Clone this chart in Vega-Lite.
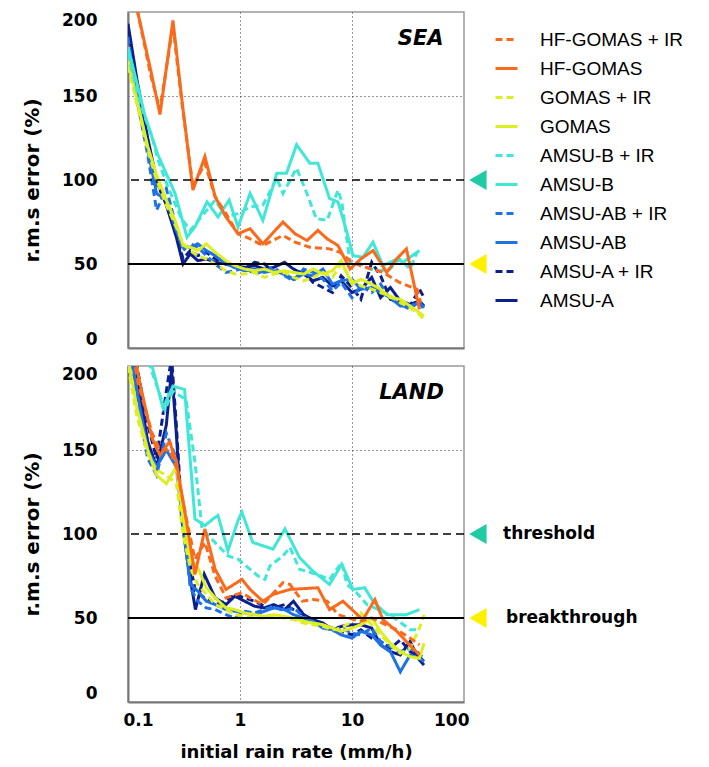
{
"$schema":"https://vega.github.io/schema/vega-lite/v6.json",
"background":"white",
"padding":{"left":21,"top":10,"right":0,"bottom":0},
"spacing":15,
"config":{
 "view":{"stroke":"#999","strokeWidth":1.5},
 "font":"DejaVu Sans",
 "axis":{"labelFont":"DejaVu Sans","labelFontWeight":"bold","labelFontSize":17,"labelColor":"#000","titleFont":"DejaVu Sans","titleFontWeight":"bold","titleFontSize":18,"titleColor":"#000","domainColor":"#777","domainWidth":2,"ticks":false,"tickSize":0,"gridColor":"#333","gridDash":[1,3],"gridWidth":1},
 "legend":{"orient":"none","legendX":366,"legendY":15,"symbolType":"stroke","symbolSize":484,"symbolStrokeWidth":3,"labelFont":"Liberation Sans","labelFontSize":19,"labelColor":"#000","labelOffset":21,"rowPadding":6,"padding":0,"labelLimit":300,"labelExpr":"replace(datum.label, ' +', '\u00a0\u00a0\u00a0+')"}
},
"datasets":{
"tri":[{"t":"threshold","x":133,"y":100},{"t":"breakthrough","x":133,"y":50}],
"labels":[{"text":"threshold","x":223,"y":100},{"text":"breakthrough","x":237,"y":50}],
"tags":[{"p":"SEA","name":"SEA","x":41,"y":184},{"p":"LAND","name":"LAND","x":34,"y":184}],
"lines":[
{"p":"SEA","s":"AMSU-A","x":0.1,"y":193},{"p":"SEA","s":"AMSU-A","x":0.12,"y":160},{"p":"SEA","s":"AMSU-A","x":0.15,"y":125},{"p":"SEA","s":"AMSU-A","x":0.18,"y":100},{"p":"SEA","s":"AMSU-A","x":0.22,"y":85},{"p":"SEA","s":"AMSU-A","x":0.27,"y":66},{"p":"SEA","s":"AMSU-A","x":0.31,"y":50},{"p":"SEA","s":"AMSU-A","x":0.36,"y":56},{"p":"SEA","s":"AMSU-A","x":0.42,"y":52},{"p":"SEA","s":"AMSU-A","x":0.5,"y":53},{"p":"SEA","s":"AMSU-A","x":0.6,"y":51},{"p":"SEA","s":"AMSU-A","x":0.75,"y":50},{"p":"SEA","s":"AMSU-A","x":0.9,"y":49},{"p":"SEA","s":"AMSU-A","x":1.1,"y":48},{"p":"SEA","s":"AMSU-A","x":1.35,"y":49},{"p":"SEA","s":"AMSU-A","x":1.65,"y":47},{"p":"SEA","s":"AMSU-A","x":2,"y":48},{"p":"SEA","s":"AMSU-A","x":2.5,"y":51},{"p":"SEA","s":"AMSU-A","x":3,"y":47},{"p":"SEA","s":"AMSU-A","x":3.7,"y":44},{"p":"SEA","s":"AMSU-A","x":4.5,"y":40},{"p":"SEA","s":"AMSU-A","x":5.5,"y":42},{"p":"SEA","s":"AMSU-A","x":6.7,"y":37},{"p":"SEA","s":"AMSU-A","x":8,"y":40},{"p":"SEA","s":"AMSU-A","x":10,"y":33},{"p":"SEA","s":"AMSU-A","x":12,"y":35},{"p":"SEA","s":"AMSU-A","x":15,"y":42},{"p":"SEA","s":"AMSU-A","x":18,"y":30},{"p":"SEA","s":"AMSU-A","x":22,"y":36},{"p":"SEA","s":"AMSU-A","x":27,"y":28},{"p":"SEA","s":"AMSU-A","x":33,"y":26},{"p":"SEA","s":"AMSU-A","x":40,"y":28},{"p":"SEA","s":"AMSU-A","x":44,"y":25},
{"p":"SEA","s":"AMSU-A + IR","x":0.1,"y":190},{"p":"SEA","s":"AMSU-A + IR","x":0.12,"y":158},{"p":"SEA","s":"AMSU-A + IR","x":0.15,"y":122},{"p":"SEA","s":"AMSU-A + IR","x":0.18,"y":98},{"p":"SEA","s":"AMSU-A + IR","x":0.22,"y":86},{"p":"SEA","s":"AMSU-A + IR","x":0.27,"y":68},{"p":"SEA","s":"AMSU-A + IR","x":0.31,"y":53},{"p":"SEA","s":"AMSU-A + IR","x":0.36,"y":58},{"p":"SEA","s":"AMSU-A + IR","x":0.42,"y":55},{"p":"SEA","s":"AMSU-A + IR","x":0.5,"y":57},{"p":"SEA","s":"AMSU-A + IR","x":0.6,"y":53},{"p":"SEA","s":"AMSU-A + IR","x":0.75,"y":50},{"p":"SEA","s":"AMSU-A + IR","x":0.9,"y":48},{"p":"SEA","s":"AMSU-A + IR","x":1.1,"y":47},{"p":"SEA","s":"AMSU-A + IR","x":1.35,"y":51},{"p":"SEA","s":"AMSU-A + IR","x":1.65,"y":50},{"p":"SEA","s":"AMSU-A + IR","x":2,"y":45},{"p":"SEA","s":"AMSU-A + IR","x":2.5,"y":44},{"p":"SEA","s":"AMSU-A + IR","x":3,"y":41},{"p":"SEA","s":"AMSU-A + IR","x":3.7,"y":45},{"p":"SEA","s":"AMSU-A + IR","x":4.5,"y":39},{"p":"SEA","s":"AMSU-A + IR","x":5.5,"y":36},{"p":"SEA","s":"AMSU-A + IR","x":6.7,"y":33},{"p":"SEA","s":"AMSU-A + IR","x":8,"y":43},{"p":"SEA","s":"AMSU-A + IR","x":10,"y":36},{"p":"SEA","s":"AMSU-A + IR","x":12,"y":29},{"p":"SEA","s":"AMSU-A + IR","x":15,"y":51},{"p":"SEA","s":"AMSU-A + IR","x":18,"y":43},{"p":"SEA","s":"AMSU-A + IR","x":22,"y":29},{"p":"SEA","s":"AMSU-A + IR","x":27,"y":27},{"p":"SEA","s":"AMSU-A + IR","x":33,"y":25},{"p":"SEA","s":"AMSU-A + IR","x":40,"y":35},{"p":"SEA","s":"AMSU-A + IR","x":44,"y":30},
{"p":"SEA","s":"AMSU-AB","x":0.1,"y":178},{"p":"SEA","s":"AMSU-AB","x":0.12,"y":150},{"p":"SEA","s":"AMSU-AB","x":0.15,"y":118},{"p":"SEA","s":"AMSU-AB","x":0.18,"y":92},{"p":"SEA","s":"AMSU-AB","x":0.22,"y":88},{"p":"SEA","s":"AMSU-AB","x":0.27,"y":70},{"p":"SEA","s":"AMSU-AB","x":0.31,"y":60},{"p":"SEA","s":"AMSU-AB","x":0.36,"y":60},{"p":"SEA","s":"AMSU-AB","x":0.42,"y":62},{"p":"SEA","s":"AMSU-AB","x":0.5,"y":58},{"p":"SEA","s":"AMSU-AB","x":0.6,"y":55},{"p":"SEA","s":"AMSU-AB","x":0.75,"y":50},{"p":"SEA","s":"AMSU-AB","x":0.9,"y":48},{"p":"SEA","s":"AMSU-AB","x":1.1,"y":46},{"p":"SEA","s":"AMSU-AB","x":1.35,"y":47},{"p":"SEA","s":"AMSU-AB","x":1.65,"y":45},{"p":"SEA","s":"AMSU-AB","x":2,"y":46},{"p":"SEA","s":"AMSU-AB","x":2.5,"y":44},{"p":"SEA","s":"AMSU-AB","x":3,"y":41},{"p":"SEA","s":"AMSU-AB","x":3.7,"y":44},{"p":"SEA","s":"AMSU-AB","x":4.5,"y":43},{"p":"SEA","s":"AMSU-AB","x":5.5,"y":47},{"p":"SEA","s":"AMSU-AB","x":6.7,"y":38},{"p":"SEA","s":"AMSU-AB","x":8,"y":40},{"p":"SEA","s":"AMSU-AB","x":10,"y":41},{"p":"SEA","s":"AMSU-AB","x":12,"y":35},{"p":"SEA","s":"AMSU-AB","x":15,"y":36},{"p":"SEA","s":"AMSU-AB","x":18,"y":33},{"p":"SEA","s":"AMSU-AB","x":22,"y":30},{"p":"SEA","s":"AMSU-AB","x":27,"y":25},{"p":"SEA","s":"AMSU-AB","x":33,"y":25},{"p":"SEA","s":"AMSU-AB","x":40,"y":27},{"p":"SEA","s":"AMSU-AB","x":44,"y":24},
{"p":"SEA","s":"AMSU-AB + IR","x":0.1,"y":185},{"p":"SEA","s":"AMSU-AB + IR","x":0.12,"y":148},{"p":"SEA","s":"AMSU-AB + IR","x":0.15,"y":115},{"p":"SEA","s":"AMSU-AB + IR","x":0.18,"y":82},{"p":"SEA","s":"AMSU-AB + IR","x":0.22,"y":95},{"p":"SEA","s":"AMSU-AB + IR","x":0.27,"y":72},{"p":"SEA","s":"AMSU-AB + IR","x":0.31,"y":58},{"p":"SEA","s":"AMSU-AB + IR","x":0.36,"y":62},{"p":"SEA","s":"AMSU-AB + IR","x":0.42,"y":60},{"p":"SEA","s":"AMSU-AB + IR","x":0.5,"y":55},{"p":"SEA","s":"AMSU-AB + IR","x":0.6,"y":50},{"p":"SEA","s":"AMSU-AB + IR","x":0.75,"y":45},{"p":"SEA","s":"AMSU-AB + IR","x":0.9,"y":46},{"p":"SEA","s":"AMSU-AB + IR","x":1.1,"y":48},{"p":"SEA","s":"AMSU-AB + IR","x":1.35,"y":44},{"p":"SEA","s":"AMSU-AB + IR","x":1.65,"y":46},{"p":"SEA","s":"AMSU-AB + IR","x":2,"y":48},{"p":"SEA","s":"AMSU-AB + IR","x":2.5,"y":43},{"p":"SEA","s":"AMSU-AB + IR","x":3,"y":40},{"p":"SEA","s":"AMSU-AB + IR","x":3.7,"y":47},{"p":"SEA","s":"AMSU-AB + IR","x":4.5,"y":45},{"p":"SEA","s":"AMSU-AB + IR","x":5.5,"y":41},{"p":"SEA","s":"AMSU-AB + IR","x":6.7,"y":34},{"p":"SEA","s":"AMSU-AB + IR","x":8,"y":39},{"p":"SEA","s":"AMSU-AB + IR","x":10,"y":30},{"p":"SEA","s":"AMSU-AB + IR","x":12,"y":37},{"p":"SEA","s":"AMSU-AB + IR","x":15,"y":33},{"p":"SEA","s":"AMSU-AB + IR","x":18,"y":38},{"p":"SEA","s":"AMSU-AB + IR","x":22,"y":29},{"p":"SEA","s":"AMSU-AB + IR","x":27,"y":26},{"p":"SEA","s":"AMSU-AB + IR","x":33,"y":23},{"p":"SEA","s":"AMSU-AB + IR","x":40,"y":28},{"p":"SEA","s":"AMSU-AB + IR","x":44,"y":22},
{"p":"SEA","s":"GOMAS","x":0.1,"y":172},{"p":"SEA","s":"GOMAS","x":0.12,"y":148},{"p":"SEA","s":"GOMAS","x":0.15,"y":120},{"p":"SEA","s":"GOMAS","x":0.18,"y":103},{"p":"SEA","s":"GOMAS","x":0.22,"y":88},{"p":"SEA","s":"GOMAS","x":0.27,"y":74},{"p":"SEA","s":"GOMAS","x":0.31,"y":61},{"p":"SEA","s":"GOMAS","x":0.36,"y":60},{"p":"SEA","s":"GOMAS","x":0.42,"y":58},{"p":"SEA","s":"GOMAS","x":0.5,"y":62},{"p":"SEA","s":"GOMAS","x":0.6,"y":57},{"p":"SEA","s":"GOMAS","x":0.75,"y":52},{"p":"SEA","s":"GOMAS","x":0.9,"y":49},{"p":"SEA","s":"GOMAS","x":1.1,"y":47},{"p":"SEA","s":"GOMAS","x":1.35,"y":46},{"p":"SEA","s":"GOMAS","x":1.65,"y":47},{"p":"SEA","s":"GOMAS","x":2,"y":45},{"p":"SEA","s":"GOMAS","x":2.5,"y":46},{"p":"SEA","s":"GOMAS","x":3,"y":45},{"p":"SEA","s":"GOMAS","x":3.7,"y":44},{"p":"SEA","s":"GOMAS","x":4.5,"y":47},{"p":"SEA","s":"GOMAS","x":5.5,"y":44},{"p":"SEA","s":"GOMAS","x":6.7,"y":46},{"p":"SEA","s":"GOMAS","x":8,"y":52},{"p":"SEA","s":"GOMAS","x":10,"y":38},{"p":"SEA","s":"GOMAS","x":12,"y":41},{"p":"SEA","s":"GOMAS","x":15,"y":38},{"p":"SEA","s":"GOMAS","x":18,"y":35},{"p":"SEA","s":"GOMAS","x":22,"y":30},{"p":"SEA","s":"GOMAS","x":27,"y":29},{"p":"SEA","s":"GOMAS","x":33,"y":25},{"p":"SEA","s":"GOMAS","x":40,"y":21},{"p":"SEA","s":"GOMAS","x":44,"y":19},
{"p":"SEA","s":"GOMAS + IR","x":0.1,"y":168},{"p":"SEA","s":"GOMAS + IR","x":0.12,"y":145},{"p":"SEA","s":"GOMAS + IR","x":0.15,"y":118},{"p":"SEA","s":"GOMAS + IR","x":0.18,"y":100},{"p":"SEA","s":"GOMAS + IR","x":0.22,"y":85},{"p":"SEA","s":"GOMAS + IR","x":0.27,"y":72},{"p":"SEA","s":"GOMAS + IR","x":0.31,"y":62},{"p":"SEA","s":"GOMAS + IR","x":0.36,"y":58},{"p":"SEA","s":"GOMAS + IR","x":0.42,"y":55},{"p":"SEA","s":"GOMAS + IR","x":0.5,"y":53},{"p":"SEA","s":"GOMAS + IR","x":0.6,"y":50},{"p":"SEA","s":"GOMAS + IR","x":0.75,"y":46},{"p":"SEA","s":"GOMAS + IR","x":0.9,"y":44},{"p":"SEA","s":"GOMAS + IR","x":1.1,"y":44},{"p":"SEA","s":"GOMAS + IR","x":1.35,"y":45},{"p":"SEA","s":"GOMAS + IR","x":1.65,"y":42},{"p":"SEA","s":"GOMAS + IR","x":2,"y":44},{"p":"SEA","s":"GOMAS + IR","x":2.5,"y":45},{"p":"SEA","s":"GOMAS + IR","x":3,"y":42},{"p":"SEA","s":"GOMAS + IR","x":3.7,"y":40},{"p":"SEA","s":"GOMAS + IR","x":4.5,"y":42},{"p":"SEA","s":"GOMAS + IR","x":5.5,"y":45},{"p":"SEA","s":"GOMAS + IR","x":6.7,"y":42},{"p":"SEA","s":"GOMAS + IR","x":8,"y":50},{"p":"SEA","s":"GOMAS + IR","x":10,"y":40},{"p":"SEA","s":"GOMAS + IR","x":12,"y":37},{"p":"SEA","s":"GOMAS + IR","x":15,"y":35},{"p":"SEA","s":"GOMAS + IR","x":18,"y":33},{"p":"SEA","s":"GOMAS + IR","x":22,"y":31},{"p":"SEA","s":"GOMAS + IR","x":27,"y":27},{"p":"SEA","s":"GOMAS + IR","x":33,"y":24},{"p":"SEA","s":"GOMAS + IR","x":40,"y":20},{"p":"SEA","s":"GOMAS + IR","x":44,"y":17},
{"p":"SEA","s":"AMSU-B + IR","x":0.1,"y":175},{"p":"SEA","s":"AMSU-B + IR","x":0.123,"y":150},{"p":"SEA","s":"AMSU-B + IR","x":0.142,"y":137},{"p":"SEA","s":"AMSU-B + IR","x":0.165,"y":125},{"p":"SEA","s":"AMSU-B + IR","x":0.185,"y":112},{"p":"SEA","s":"AMSU-B + IR","x":0.23,"y":95},{"p":"SEA","s":"AMSU-B + IR","x":0.3,"y":77},{"p":"SEA","s":"AMSU-B + IR","x":0.36,"y":70},{"p":"SEA","s":"AMSU-B + IR","x":0.45,"y":78},{"p":"SEA","s":"AMSU-B + IR","x":0.6,"y":88},{"p":"SEA","s":"AMSU-B + IR","x":0.75,"y":78},{"p":"SEA","s":"AMSU-B + IR","x":0.96,"y":80},{"p":"SEA","s":"AMSU-B + IR","x":1.23,"y":84},{"p":"SEA","s":"AMSU-B + IR","x":1.6,"y":85},{"p":"SEA","s":"AMSU-B + IR","x":2.13,"y":101},{"p":"SEA","s":"AMSU-B + IR","x":2.42,"y":92},{"p":"SEA","s":"AMSU-B + IR","x":3.2,"y":107},{"p":"SEA","s":"AMSU-B + IR","x":3.8,"y":95},{"p":"SEA","s":"AMSU-B + IR","x":4.8,"y":77},{"p":"SEA","s":"AMSU-B + IR","x":6,"y":76},{"p":"SEA","s":"AMSU-B + IR","x":7.5,"y":94},{"p":"SEA","s":"AMSU-B + IR","x":8.1,"y":87},{"p":"SEA","s":"AMSU-B + IR","x":9.6,"y":51},{"p":"SEA","s":"AMSU-B + IR","x":12,"y":50},{"p":"SEA","s":"AMSU-B + IR","x":14.5,"y":47},{"p":"SEA","s":"AMSU-B + IR","x":18,"y":46},{"p":"SEA","s":"AMSU-B + IR","x":21.8,"y":47},{"p":"SEA","s":"AMSU-B + IR","x":26.5,"y":53},{"p":"SEA","s":"AMSU-B + IR","x":33.1,"y":47},{"p":"SEA","s":"AMSU-B + IR","x":38,"y":57},
{"p":"SEA","s":"AMSU-B","x":0.1,"y":179},{"p":"SEA","s":"AMSU-B","x":0.123,"y":155},{"p":"SEA","s":"AMSU-B","x":0.142,"y":138},{"p":"SEA","s":"AMSU-B","x":0.185,"y":115},{"p":"SEA","s":"AMSU-B","x":0.263,"y":92},{"p":"SEA","s":"AMSU-B","x":0.336,"y":66},{"p":"SEA","s":"AMSU-B","x":0.396,"y":72},{"p":"SEA","s":"AMSU-B","x":0.508,"y":87},{"p":"SEA","s":"AMSU-B","x":0.636,"y":78},{"p":"SEA","s":"AMSU-B","x":0.8,"y":88},{"p":"SEA","s":"AMSU-B","x":0.96,"y":72},{"p":"SEA","s":"AMSU-B","x":1.23,"y":92},{"p":"SEA","s":"AMSU-B","x":1.6,"y":76},{"p":"SEA","s":"AMSU-B","x":2.13,"y":104},{"p":"SEA","s":"AMSU-B","x":2.6,"y":104},{"p":"SEA","s":"AMSU-B","x":3.2,"y":121},{"p":"SEA","s":"AMSU-B","x":4.2,"y":110},{"p":"SEA","s":"AMSU-B","x":4.96,"y":110},{"p":"SEA","s":"AMSU-B","x":6.3,"y":89},{"p":"SEA","s":"AMSU-B","x":7.5,"y":87},{"p":"SEA","s":"AMSU-B","x":9,"y":69},{"p":"SEA","s":"AMSU-B","x":10.2,"y":55},{"p":"SEA","s":"AMSU-B","x":12.5,"y":54},{"p":"SEA","s":"AMSU-B","x":15.4,"y":63},{"p":"SEA","s":"AMSU-B","x":18.9,"y":49},{"p":"SEA","s":"AMSU-B","x":25.2,"y":53},{"p":"SEA","s":"AMSU-B","x":28.4,"y":51},{"p":"SEA","s":"AMSU-B","x":40,"y":58},
{"p":"SEA","s":"HF-GOMAS + IR","x":0.1,"y":240},{"p":"SEA","s":"HF-GOMAS + IR","x":0.123,"y":199},{"p":"SEA","s":"HF-GOMAS + IR","x":0.16,"y":162},{"p":"SEA","s":"HF-GOMAS + IR","x":0.193,"y":142},{"p":"SEA","s":"HF-GOMAS + IR","x":0.252,"y":192},{"p":"SEA","s":"HF-GOMAS + IR","x":0.3,"y":148},{"p":"SEA","s":"HF-GOMAS + IR","x":0.38,"y":96},{"p":"SEA","s":"HF-GOMAS + IR","x":0.486,"y":110},{"p":"SEA","s":"HF-GOMAS + IR","x":0.6,"y":90},{"p":"SEA","s":"HF-GOMAS + IR","x":0.75,"y":80},{"p":"SEA","s":"HF-GOMAS + IR","x":0.96,"y":68},{"p":"SEA","s":"HF-GOMAS + IR","x":1.23,"y":65},{"p":"SEA","s":"HF-GOMAS + IR","x":1.6,"y":61},{"p":"SEA","s":"HF-GOMAS + IR","x":2.42,"y":67},{"p":"SEA","s":"HF-GOMAS + IR","x":3.1,"y":63},{"p":"SEA","s":"HF-GOMAS + IR","x":4.2,"y":60},{"p":"SEA","s":"HF-GOMAS + IR","x":6.3,"y":59},{"p":"SEA","s":"HF-GOMAS + IR","x":7.8,"y":57},{"p":"SEA","s":"HF-GOMAS + IR","x":9.6,"y":52},{"p":"SEA","s":"HF-GOMAS + IR","x":11.8,"y":49},{"p":"SEA","s":"HF-GOMAS + IR","x":15,"y":47},{"p":"SEA","s":"HF-GOMAS + IR","x":18.9,"y":45},{"p":"SEA","s":"HF-GOMAS + IR","x":26.5,"y":39},{"p":"SEA","s":"HF-GOMAS + IR","x":38,"y":35},{"p":"SEA","s":"HF-GOMAS + IR","x":41,"y":27},
{"p":"SEA","s":"HF-GOMAS","x":0.1,"y":240},{"p":"SEA","s":"HF-GOMAS","x":0.123,"y":199},{"p":"SEA","s":"HF-GOMAS","x":0.16,"y":165},{"p":"SEA","s":"HF-GOMAS","x":0.193,"y":139},{"p":"SEA","s":"HF-GOMAS","x":0.252,"y":195},{"p":"SEA","s":"HF-GOMAS","x":0.3,"y":150},{"p":"SEA","s":"HF-GOMAS","x":0.38,"y":94},{"p":"SEA","s":"HF-GOMAS","x":0.486,"y":114},{"p":"SEA","s":"HF-GOMAS","x":0.6,"y":90},{"p":"SEA","s":"HF-GOMAS","x":0.75,"y":78},{"p":"SEA","s":"HF-GOMAS","x":0.96,"y":68},{"p":"SEA","s":"HF-GOMAS","x":1.23,"y":71},{"p":"SEA","s":"HF-GOMAS","x":1.6,"y":62},{"p":"SEA","s":"HF-GOMAS","x":2.42,"y":75},{"p":"SEA","s":"HF-GOMAS","x":3.1,"y":68},{"p":"SEA","s":"HF-GOMAS","x":3.97,"y":64},{"p":"SEA","s":"HF-GOMAS","x":4.96,"y":70},{"p":"SEA","s":"HF-GOMAS","x":6,"y":65},{"p":"SEA","s":"HF-GOMAS","x":7.5,"y":61},{"p":"SEA","s":"HF-GOMAS","x":9.6,"y":47},{"p":"SEA","s":"HF-GOMAS","x":12,"y":53},{"p":"SEA","s":"HF-GOMAS","x":15.4,"y":58},{"p":"SEA","s":"HF-GOMAS","x":20.4,"y":45},{"p":"SEA","s":"HF-GOMAS","x":25,"y":53},{"p":"SEA","s":"HF-GOMAS","x":30.6,"y":59},{"p":"SEA","s":"HF-GOMAS","x":40,"y":23},
{"p":"LAND","s":"AMSU-A","x":0.1,"y":230},{"p":"LAND","s":"AMSU-A","x":0.12,"y":195},{"p":"LAND","s":"AMSU-A","x":0.15,"y":155},{"p":"LAND","s":"AMSU-A","x":0.18,"y":140},{"p":"LAND","s":"AMSU-A","x":0.22,"y":165},{"p":"LAND","s":"AMSU-A","x":0.245,"y":198},{"p":"LAND","s":"AMSU-A","x":0.27,"y":160},{"p":"LAND","s":"AMSU-A","x":0.3,"y":110},{"p":"LAND","s":"AMSU-A","x":0.35,"y":78},{"p":"LAND","s":"AMSU-A","x":0.4,"y":55},{"p":"LAND","s":"AMSU-A","x":0.48,"y":76},{"p":"LAND","s":"AMSU-A","x":0.6,"y":62},{"p":"LAND","s":"AMSU-A","x":0.75,"y":58},{"p":"LAND","s":"AMSU-A","x":0.9,"y":63},{"p":"LAND","s":"AMSU-A","x":1.1,"y":60},{"p":"LAND","s":"AMSU-A","x":1.35,"y":57},{"p":"LAND","s":"AMSU-A","x":1.65,"y":56},{"p":"LAND","s":"AMSU-A","x":2,"y":58},{"p":"LAND","s":"AMSU-A","x":2.5,"y":55},{"p":"LAND","s":"AMSU-A","x":3,"y":60},{"p":"LAND","s":"AMSU-A","x":3.7,"y":52},{"p":"LAND","s":"AMSU-A","x":4.5,"y":49},{"p":"LAND","s":"AMSU-A","x":5.5,"y":47},{"p":"LAND","s":"AMSU-A","x":6.7,"y":43},{"p":"LAND","s":"AMSU-A","x":8,"y":45},{"p":"LAND","s":"AMSU-A","x":10,"y":46},{"p":"LAND","s":"AMSU-A","x":12,"y":46},{"p":"LAND","s":"AMSU-A","x":15,"y":44},{"p":"LAND","s":"AMSU-A","x":18,"y":34},{"p":"LAND","s":"AMSU-A","x":22,"y":30},{"p":"LAND","s":"AMSU-A","x":27,"y":28},{"p":"LAND","s":"AMSU-A","x":33,"y":36},{"p":"LAND","s":"AMSU-A","x":40,"y":25},{"p":"LAND","s":"AMSU-A","x":44,"y":22},
{"p":"LAND","s":"AMSU-A + IR","x":0.1,"y":235},{"p":"LAND","s":"AMSU-A + IR","x":0.12,"y":200},{"p":"LAND","s":"AMSU-A + IR","x":0.15,"y":165},{"p":"LAND","s":"AMSU-A + IR","x":0.18,"y":145},{"p":"LAND","s":"AMSU-A + IR","x":0.22,"y":185},{"p":"LAND","s":"AMSU-A + IR","x":0.245,"y":205},{"p":"LAND","s":"AMSU-A + IR","x":0.27,"y":165},{"p":"LAND","s":"AMSU-A + IR","x":0.3,"y":115},{"p":"LAND","s":"AMSU-A + IR","x":0.35,"y":85},{"p":"LAND","s":"AMSU-A + IR","x":0.4,"y":66},{"p":"LAND","s":"AMSU-A + IR","x":0.48,"y":62},{"p":"LAND","s":"AMSU-A + IR","x":0.6,"y":58},{"p":"LAND","s":"AMSU-A + IR","x":0.75,"y":60},{"p":"LAND","s":"AMSU-A + IR","x":0.9,"y":64},{"p":"LAND","s":"AMSU-A + IR","x":1.1,"y":62},{"p":"LAND","s":"AMSU-A + IR","x":1.35,"y":60},{"p":"LAND","s":"AMSU-A + IR","x":1.65,"y":57},{"p":"LAND","s":"AMSU-A + IR","x":2,"y":56},{"p":"LAND","s":"AMSU-A + IR","x":2.5,"y":58},{"p":"LAND","s":"AMSU-A + IR","x":3,"y":55},{"p":"LAND","s":"AMSU-A + IR","x":3.7,"y":52},{"p":"LAND","s":"AMSU-A + IR","x":4.5,"y":48},{"p":"LAND","s":"AMSU-A + IR","x":5.5,"y":46},{"p":"LAND","s":"AMSU-A + IR","x":6.7,"y":44},{"p":"LAND","s":"AMSU-A + IR","x":8,"y":42},{"p":"LAND","s":"AMSU-A + IR","x":10,"y":40},{"p":"LAND","s":"AMSU-A + IR","x":12,"y":43},{"p":"LAND","s":"AMSU-A + IR","x":15,"y":38},{"p":"LAND","s":"AMSU-A + IR","x":18,"y":36},{"p":"LAND","s":"AMSU-A + IR","x":22,"y":32},{"p":"LAND","s":"AMSU-A + IR","x":27,"y":37},{"p":"LAND","s":"AMSU-A + IR","x":33,"y":30},{"p":"LAND","s":"AMSU-A + IR","x":40,"y":27},{"p":"LAND","s":"AMSU-A + IR","x":44,"y":24},
{"p":"LAND","s":"AMSU-AB","x":0.1,"y":220},{"p":"LAND","s":"AMSU-AB","x":0.12,"y":185},{"p":"LAND","s":"AMSU-AB","x":0.15,"y":150},{"p":"LAND","s":"AMSU-AB","x":0.18,"y":140},{"p":"LAND","s":"AMSU-AB","x":0.22,"y":150},{"p":"LAND","s":"AMSU-AB","x":0.27,"y":140},{"p":"LAND","s":"AMSU-AB","x":0.31,"y":105},{"p":"LAND","s":"AMSU-AB","x":0.36,"y":70},{"p":"LAND","s":"AMSU-AB","x":0.42,"y":66},{"p":"LAND","s":"AMSU-AB","x":0.5,"y":60},{"p":"LAND","s":"AMSU-AB","x":0.6,"y":58},{"p":"LAND","s":"AMSU-AB","x":0.75,"y":55},{"p":"LAND","s":"AMSU-AB","x":0.9,"y":54},{"p":"LAND","s":"AMSU-AB","x":1.1,"y":53},{"p":"LAND","s":"AMSU-AB","x":1.35,"y":52},{"p":"LAND","s":"AMSU-AB","x":1.65,"y":54},{"p":"LAND","s":"AMSU-AB","x":2,"y":56},{"p":"LAND","s":"AMSU-AB","x":2.5,"y":55},{"p":"LAND","s":"AMSU-AB","x":3,"y":52},{"p":"LAND","s":"AMSU-AB","x":3.7,"y":50},{"p":"LAND","s":"AMSU-AB","x":4.5,"y":48},{"p":"LAND","s":"AMSU-AB","x":5.5,"y":44},{"p":"LAND","s":"AMSU-AB","x":6.7,"y":43},{"p":"LAND","s":"AMSU-AB","x":8,"y":40},{"p":"LAND","s":"AMSU-AB","x":10,"y":38},{"p":"LAND","s":"AMSU-AB","x":12,"y":42},{"p":"LAND","s":"AMSU-AB","x":15,"y":40},{"p":"LAND","s":"AMSU-AB","x":18,"y":34},{"p":"LAND","s":"AMSU-AB","x":22,"y":30},{"p":"LAND","s":"AMSU-AB","x":27,"y":18},{"p":"LAND","s":"AMSU-AB","x":33,"y":28},{"p":"LAND","s":"AMSU-AB","x":40,"y":26},{"p":"LAND","s":"AMSU-AB","x":44,"y":24},
{"p":"LAND","s":"AMSU-AB + IR","x":0.1,"y":215},{"p":"LAND","s":"AMSU-AB + IR","x":0.12,"y":180},{"p":"LAND","s":"AMSU-AB + IR","x":0.15,"y":145},{"p":"LAND","s":"AMSU-AB + IR","x":0.18,"y":135},{"p":"LAND","s":"AMSU-AB + IR","x":0.22,"y":160},{"p":"LAND","s":"AMSU-AB + IR","x":0.27,"y":145},{"p":"LAND","s":"AMSU-AB + IR","x":0.31,"y":110},{"p":"LAND","s":"AMSU-AB + IR","x":0.36,"y":68},{"p":"LAND","s":"AMSU-AB + IR","x":0.42,"y":60},{"p":"LAND","s":"AMSU-AB + IR","x":0.5,"y":56},{"p":"LAND","s":"AMSU-AB + IR","x":0.6,"y":55},{"p":"LAND","s":"AMSU-AB + IR","x":0.75,"y":52},{"p":"LAND","s":"AMSU-AB + IR","x":0.9,"y":50},{"p":"LAND","s":"AMSU-AB + IR","x":1.1,"y":54},{"p":"LAND","s":"AMSU-AB + IR","x":1.35,"y":53},{"p":"LAND","s":"AMSU-AB + IR","x":1.65,"y":55},{"p":"LAND","s":"AMSU-AB + IR","x":2,"y":57},{"p":"LAND","s":"AMSU-AB + IR","x":2.5,"y":54},{"p":"LAND","s":"AMSU-AB + IR","x":3,"y":56},{"p":"LAND","s":"AMSU-AB + IR","x":3.7,"y":51},{"p":"LAND","s":"AMSU-AB + IR","x":4.5,"y":47},{"p":"LAND","s":"AMSU-AB + IR","x":5.5,"y":46},{"p":"LAND","s":"AMSU-AB + IR","x":6.7,"y":42},{"p":"LAND","s":"AMSU-AB + IR","x":8,"y":44},{"p":"LAND","s":"AMSU-AB + IR","x":10,"y":41},{"p":"LAND","s":"AMSU-AB + IR","x":12,"y":40},{"p":"LAND","s":"AMSU-AB + IR","x":15,"y":44},{"p":"LAND","s":"AMSU-AB + IR","x":18,"y":36},{"p":"LAND","s":"AMSU-AB + IR","x":22,"y":33},{"p":"LAND","s":"AMSU-AB + IR","x":27,"y":30},{"p":"LAND","s":"AMSU-AB + IR","x":33,"y":32},{"p":"LAND","s":"AMSU-AB + IR","x":40,"y":29},{"p":"LAND","s":"AMSU-AB + IR","x":44,"y":25},
{"p":"LAND","s":"GOMAS","x":0.1,"y":205},{"p":"LAND","s":"GOMAS","x":0.12,"y":175},{"p":"LAND","s":"GOMAS","x":0.15,"y":150},{"p":"LAND","s":"GOMAS","x":0.18,"y":135},{"p":"LAND","s":"GOMAS","x":0.22,"y":130},{"p":"LAND","s":"GOMAS","x":0.27,"y":140},{"p":"LAND","s":"GOMAS","x":0.31,"y":110},{"p":"LAND","s":"GOMAS","x":0.36,"y":85},{"p":"LAND","s":"GOMAS","x":0.42,"y":80},{"p":"LAND","s":"GOMAS","x":0.5,"y":68},{"p":"LAND","s":"GOMAS","x":0.6,"y":62},{"p":"LAND","s":"GOMAS","x":0.75,"y":56},{"p":"LAND","s":"GOMAS","x":0.9,"y":55},{"p":"LAND","s":"GOMAS","x":1.1,"y":53},{"p":"LAND","s":"GOMAS","x":1.35,"y":52},{"p":"LAND","s":"GOMAS","x":1.65,"y":51},{"p":"LAND","s":"GOMAS","x":2,"y":52},{"p":"LAND","s":"GOMAS","x":2.5,"y":51},{"p":"LAND","s":"GOMAS","x":3,"y":50},{"p":"LAND","s":"GOMAS","x":3.7,"y":48},{"p":"LAND","s":"GOMAS","x":4.5,"y":47},{"p":"LAND","s":"GOMAS","x":5.5,"y":46},{"p":"LAND","s":"GOMAS","x":6.7,"y":44},{"p":"LAND","s":"GOMAS","x":8,"y":42},{"p":"LAND","s":"GOMAS","x":10,"y":44},{"p":"LAND","s":"GOMAS","x":12,"y":46},{"p":"LAND","s":"GOMAS","x":15,"y":50},{"p":"LAND","s":"GOMAS","x":18,"y":42},{"p":"LAND","s":"GOMAS","x":22,"y":35},{"p":"LAND","s":"GOMAS","x":27,"y":30},{"p":"LAND","s":"GOMAS","x":33,"y":27},{"p":"LAND","s":"GOMAS","x":40,"y":26},{"p":"LAND","s":"GOMAS","x":44,"y":35},
{"p":"LAND","s":"GOMAS + IR","x":0.1,"y":200},{"p":"LAND","s":"GOMAS + IR","x":0.12,"y":170},{"p":"LAND","s":"GOMAS + IR","x":0.15,"y":148},{"p":"LAND","s":"GOMAS + IR","x":0.18,"y":138},{"p":"LAND","s":"GOMAS + IR","x":0.22,"y":135},{"p":"LAND","s":"GOMAS + IR","x":0.27,"y":130},{"p":"LAND","s":"GOMAS + IR","x":0.31,"y":100},{"p":"LAND","s":"GOMAS + IR","x":0.36,"y":80},{"p":"LAND","s":"GOMAS + IR","x":0.42,"y":70},{"p":"LAND","s":"GOMAS + IR","x":0.5,"y":64},{"p":"LAND","s":"GOMAS + IR","x":0.6,"y":58},{"p":"LAND","s":"GOMAS + IR","x":0.75,"y":55},{"p":"LAND","s":"GOMAS + IR","x":0.9,"y":52},{"p":"LAND","s":"GOMAS + IR","x":1.1,"y":51},{"p":"LAND","s":"GOMAS + IR","x":1.35,"y":50},{"p":"LAND","s":"GOMAS + IR","x":1.65,"y":50},{"p":"LAND","s":"GOMAS + IR","x":2,"y":51},{"p":"LAND","s":"GOMAS + IR","x":2.5,"y":50},{"p":"LAND","s":"GOMAS + IR","x":3,"y":49},{"p":"LAND","s":"GOMAS + IR","x":3.7,"y":47},{"p":"LAND","s":"GOMAS + IR","x":4.5,"y":46},{"p":"LAND","s":"GOMAS + IR","x":5.5,"y":45},{"p":"LAND","s":"GOMAS + IR","x":6.7,"y":43},{"p":"LAND","s":"GOMAS + IR","x":8,"y":44},{"p":"LAND","s":"GOMAS + IR","x":10,"y":48},{"p":"LAND","s":"GOMAS + IR","x":12,"y":53},{"p":"LAND","s":"GOMAS + IR","x":15,"y":46},{"p":"LAND","s":"GOMAS + IR","x":18,"y":40},{"p":"LAND","s":"GOMAS + IR","x":22,"y":34},{"p":"LAND","s":"GOMAS + IR","x":27,"y":29},{"p":"LAND","s":"GOMAS + IR","x":33,"y":32},{"p":"LAND","s":"GOMAS + IR","x":40,"y":44},{"p":"LAND","s":"GOMAS + IR","x":44,"y":52},
{"p":"LAND","s":"AMSU-B + IR","x":0.1,"y":240},{"p":"LAND","s":"AMSU-B + IR","x":0.157,"y":200},{"p":"LAND","s":"AMSU-B + IR","x":0.214,"y":174},{"p":"LAND","s":"AMSU-B + IR","x":0.252,"y":185},{"p":"LAND","s":"AMSU-B + IR","x":0.33,"y":180},{"p":"LAND","s":"AMSU-B + IR","x":0.396,"y":143},{"p":"LAND","s":"AMSU-B + IR","x":0.458,"y":103},{"p":"LAND","s":"AMSU-B + IR","x":0.78,"y":87},{"p":"LAND","s":"AMSU-B + IR","x":0.96,"y":85},{"p":"LAND","s":"AMSU-B + IR","x":1.45,"y":75},{"p":"LAND","s":"AMSU-B + IR","x":1.67,"y":73},{"p":"LAND","s":"AMSU-B + IR","x":1.85,"y":81},{"p":"LAND","s":"AMSU-B + IR","x":2.42,"y":87},{"p":"LAND","s":"AMSU-B + IR","x":2.79,"y":92},{"p":"LAND","s":"AMSU-B + IR","x":3.4,"y":79},{"p":"LAND","s":"AMSU-B + IR","x":4.84,"y":76},{"p":"LAND","s":"AMSU-B + IR","x":6.3,"y":73},{"p":"LAND","s":"AMSU-B + IR","x":8.1,"y":83},{"p":"LAND","s":"AMSU-B + IR","x":9,"y":70},{"p":"LAND","s":"AMSU-B + IR","x":11,"y":65},{"p":"LAND","s":"AMSU-B + IR","x":13.6,"y":58},{"p":"LAND","s":"AMSU-B + IR","x":18.9,"y":54},{"p":"LAND","s":"AMSU-B + IR","x":25.2,"y":49},{"p":"LAND","s":"AMSU-B + IR","x":33.1,"y":43},{"p":"LAND","s":"AMSU-B + IR","x":40,"y":43},
{"p":"LAND","s":"AMSU-B","x":0.1,"y":260},{"p":"LAND","s":"AMSU-B","x":0.164,"y":200},{"p":"LAND","s":"AMSU-B","x":0.205,"y":175},{"p":"LAND","s":"AMSU-B","x":0.252,"y":188},{"p":"LAND","s":"AMSU-B","x":0.32,"y":186},{"p":"LAND","s":"AMSU-B","x":0.396,"y":109},{"p":"LAND","s":"AMSU-B","x":0.486,"y":105},{"p":"LAND","s":"AMSU-B","x":0.575,"y":109},{"p":"LAND","s":"AMSU-B","x":0.636,"y":111},{"p":"LAND","s":"AMSU-B","x":0.78,"y":90},{"p":"LAND","s":"AMSU-B","x":0.96,"y":108},{"p":"LAND","s":"AMSU-B","x":1.04,"y":113},{"p":"LAND","s":"AMSU-B","x":1.3,"y":95},{"p":"LAND","s":"AMSU-B","x":1.97,"y":91},{"p":"LAND","s":"AMSU-B","x":2.52,"y":103},{"p":"LAND","s":"AMSU-B","x":3.4,"y":86},{"p":"LAND","s":"AMSU-B","x":4.46,"y":78},{"p":"LAND","s":"AMSU-B","x":6.3,"y":70},{"p":"LAND","s":"AMSU-B","x":8.1,"y":82},{"p":"LAND","s":"AMSU-B","x":10.2,"y":67},{"p":"LAND","s":"AMSU-B","x":13,"y":68},{"p":"LAND","s":"AMSU-B","x":15.4,"y":60},{"p":"LAND","s":"AMSU-B","x":20.4,"y":52},{"p":"LAND","s":"AMSU-B","x":30.6,"y":52},{"p":"LAND","s":"AMSU-B","x":40,"y":55},
{"p":"LAND","s":"HF-GOMAS + IR","x":0.1,"y":225},{"p":"LAND","s":"HF-GOMAS + IR","x":0.123,"y":190},{"p":"LAND","s":"HF-GOMAS + IR","x":0.164,"y":160},{"p":"LAND","s":"HF-GOMAS + IR","x":0.193,"y":150},{"p":"LAND","s":"HF-GOMAS + IR","x":0.235,"y":150},{"p":"LAND","s":"HF-GOMAS + IR","x":0.27,"y":140},{"p":"LAND","s":"HF-GOMAS + IR","x":0.33,"y":110},{"p":"LAND","s":"HF-GOMAS + IR","x":0.396,"y":85},{"p":"LAND","s":"HF-GOMAS + IR","x":0.486,"y":95},{"p":"LAND","s":"HF-GOMAS + IR","x":0.6,"y":75},{"p":"LAND","s":"HF-GOMAS + IR","x":0.75,"y":62},{"p":"LAND","s":"HF-GOMAS + IR","x":1.04,"y":65},{"p":"LAND","s":"HF-GOMAS + IR","x":1.23,"y":62},{"p":"LAND","s":"HF-GOMAS + IR","x":1.6,"y":58},{"p":"LAND","s":"HF-GOMAS + IR","x":2.42,"y":71},{"p":"LAND","s":"HF-GOMAS + IR","x":2.79,"y":70},{"p":"LAND","s":"HF-GOMAS + IR","x":3.6,"y":60},{"p":"LAND","s":"HF-GOMAS + IR","x":4.46,"y":61},{"p":"LAND","s":"HF-GOMAS + IR","x":6,"y":60},{"p":"LAND","s":"HF-GOMAS + IR","x":7.5,"y":52},{"p":"LAND","s":"HF-GOMAS + IR","x":11.8,"y":48},{"p":"LAND","s":"HF-GOMAS + IR","x":15,"y":50},{"p":"LAND","s":"HF-GOMAS + IR","x":20,"y":46},{"p":"LAND","s":"HF-GOMAS + IR","x":25.2,"y":43},{"p":"LAND","s":"HF-GOMAS + IR","x":33.1,"y":38},{"p":"LAND","s":"HF-GOMAS + IR","x":40,"y":34},
{"p":"LAND","s":"HF-GOMAS","x":0.1,"y":230},{"p":"LAND","s":"HF-GOMAS","x":0.123,"y":195},{"p":"LAND","s":"HF-GOMAS","x":0.164,"y":157},{"p":"LAND","s":"HF-GOMAS","x":0.193,"y":147},{"p":"LAND","s":"HF-GOMAS","x":0.235,"y":155},{"p":"LAND","s":"HF-GOMAS","x":0.27,"y":143},{"p":"LAND","s":"HF-GOMAS","x":0.33,"y":109},{"p":"LAND","s":"HF-GOMAS","x":0.396,"y":76},{"p":"LAND","s":"HF-GOMAS","x":0.486,"y":103},{"p":"LAND","s":"HF-GOMAS","x":0.6,"y":79},{"p":"LAND","s":"HF-GOMAS","x":0.75,"y":67},{"p":"LAND","s":"HF-GOMAS","x":1.04,"y":73},{"p":"LAND","s":"HF-GOMAS","x":1.23,"y":67},{"p":"LAND","s":"HF-GOMAS","x":1.6,"y":60},{"p":"LAND","s":"HF-GOMAS","x":1.97,"y":64},{"p":"LAND","s":"HF-GOMAS","x":2.79,"y":67},{"p":"LAND","s":"HF-GOMAS","x":4.96,"y":68},{"p":"LAND","s":"HF-GOMAS","x":6.3,"y":55},{"p":"LAND","s":"HF-GOMAS","x":8.3,"y":60},{"p":"LAND","s":"HF-GOMAS","x":12.5,"y":49},{"p":"LAND","s":"HF-GOMAS","x":16,"y":61},{"p":"LAND","s":"HF-GOMAS","x":18.9,"y":49},{"p":"LAND","s":"HF-GOMAS","x":25.2,"y":42},{"p":"LAND","s":"HF-GOMAS","x":30.6,"y":36},{"p":"LAND","s":"HF-GOMAS","x":40,"y":28}
]},
"vconcat":[
{"width":336,"height":336,
 "layer":[
  {"data":{"name":"lines"},"transform":[{"filter":"datum.p === 'SEA'"}],
   "mark":{"type":"line","clip":true,"strokeWidth":3},
   "encoding":{
    "x":{"field":"x","type":"quantitative","scale":{"type":"log","domain":[0.1,100],"nice":false},"axis":{"values":[0.1,1,10,100],"labels":false,"title":null,"gridOpacity":{"condition":{"test":"datum.value == 1 || datum.value == 10","value":1},"value":0}}},
    "y":{"field":"y","type":"quantitative","scale":{"domain":[0,200],"nice":false},"axis":{"title":"r.m.s error (%)","titleFontSize":20,"values":[0,50,100,150,200],"labelFlush":true,"labelPadding":31,"titlePadding":19,"gridOpacity":{"condition":{"test":"datum.value == 150","value":1},"value":0}}},
    "color":{"field":"s","type":"nominal","title":null,"scale":{"domain":["HF-GOMAS + IR","HF-GOMAS","GOMAS + IR","GOMAS","AMSU-B + IR","AMSU-B","AMSU-AB + IR","AMSU-AB","AMSU-A + IR","AMSU-A"],"range":["#FA6A1A","#FA6A1A","#DDEE22","#DDEE22","#40E6D6","#40E6D6","#1E72E6","#1E72E6","#0B1F8F","#0B1F8F"]}},
    "strokeDash":{"field":"s","type":"nominal","title":null,"scale":{"domain":["HF-GOMAS + IR","HF-GOMAS","GOMAS + IR","GOMAS","AMSU-B + IR","AMSU-B","AMSU-AB + IR","AMSU-AB","AMSU-A + IR","AMSU-A"],"range":[[7,4],[1,0],[7,4],[1,0],[7,4],[1,0],[7,4],[1,0],[7,4],[1,0]]}}
   }},
  {"data":{"values":[{}]},"mark":{"type":"rule","strokeDash":[8,5],"strokeWidth":1.5,"color":"#000"},"encoding":{"y":{"datum":100}}},
  {"data":{"values":[{}]},"mark":{"type":"rule","strokeWidth":2,"color":"#000"},"encoding":{"y":{"datum":50}}},
  {"data":{"name":"tri"},"mark":{"type":"point","shape":"triangle-left","filled":true,"size":400,"opacity":1,"clip":false},"encoding":{"x":{"field":"x","type":"quantitative"},"y":{"field":"y","type":"quantitative"},"fill":{"field":"t","type":"nominal","scale":{"domain":["threshold","breakthrough"],"range":["#1ECBA5","#FFF000"]},"legend":null}}},
  {"data":{"name":"tags"},"transform":[{"filter":"datum.p === 'SEA'"}],"mark":{"type":"text","font":"DejaVu Sans","fontWeight":"bold","fontStyle":"italic","fontSize":21,"color":"#000"},"encoding":{"x":{"field":"x","type":"quantitative"},"y":{"field":"y","type":"quantitative"},"text":{"field":"name"}}}
 ]},
{"width":336,"height":336,
 "layer":[
  {"data":{"name":"lines"},"transform":[{"filter":"datum.p === 'LAND'"}],
   "mark":{"type":"line","clip":true,"strokeWidth":3},
   "encoding":{
    "x":{"field":"x","type":"quantitative","scale":{"type":"log","domain":[0.1,100],"nice":false},"axis":{"values":[0.1,1,10,100],"format":"~g","labelFlush":true,"labelFlushOffset":5,"labelPadding":10,"title":"initial rain rate (mm/h)","titlePadding":15,"gridOpacity":{"condition":{"test":"datum.value == 1 || datum.value == 10","value":1},"value":0}}},
    "y":{"field":"y","type":"quantitative","scale":{"domain":[0,200],"nice":false},"axis":{"title":"r.m.s error (%)","titleFontSize":20,"values":[0,50,100,150,200],"labelFlush":true,"labelPadding":31,"titlePadding":19,"gridOpacity":{"condition":{"test":"datum.value == 150","value":1},"value":0}}},
    "color":{"field":"s","type":"nominal","title":null,"scale":{"domain":["HF-GOMAS + IR","HF-GOMAS","GOMAS + IR","GOMAS","AMSU-B + IR","AMSU-B","AMSU-AB + IR","AMSU-AB","AMSU-A + IR","AMSU-A"],"range":["#FA6A1A","#FA6A1A","#DDEE22","#DDEE22","#40E6D6","#40E6D6","#1E72E6","#1E72E6","#0B1F8F","#0B1F8F"]}},
    "strokeDash":{"field":"s","type":"nominal","title":null,"scale":{"domain":["HF-GOMAS + IR","HF-GOMAS","GOMAS + IR","GOMAS","AMSU-B + IR","AMSU-B","AMSU-AB + IR","AMSU-AB","AMSU-A + IR","AMSU-A"],"range":[[7,4],[1,0],[7,4],[1,0],[7,4],[1,0],[7,4],[1,0],[7,4],[1,0]]}}
   }},
  {"data":{"values":[{}]},"mark":{"type":"rule","strokeDash":[8,5],"strokeWidth":1.5,"color":"#000"},"encoding":{"y":{"datum":100}}},
  {"data":{"values":[{}]},"mark":{"type":"rule","strokeWidth":2,"color":"#000"},"encoding":{"y":{"datum":50}}},
  {"data":{"name":"tri"},"mark":{"type":"point","shape":"triangle-left","filled":true,"size":400,"opacity":1,"clip":false},"encoding":{"x":{"field":"x","type":"quantitative"},"y":{"field":"y","type":"quantitative"},"fill":{"field":"t","type":"nominal","scale":{"domain":["threshold","breakthrough"],"range":["#1ECBA5","#FFF000"]},"legend":null}}},
  {"data":{"name":"labels"},"mark":{"type":"text","align":"left","baseline":"middle","font":"DejaVu Sans","fontWeight":"bold","fontSize":17,"color":"#000","clip":false},"encoding":{"x":{"field":"x","type":"quantitative"},"y":{"field":"y","type":"quantitative"},"text":{"field":"text"}}},
  {"data":{"name":"tags"},"transform":[{"filter":"datum.p === 'LAND'"}],"mark":{"type":"text","font":"DejaVu Sans","fontWeight":"bold","fontStyle":"italic","fontSize":21,"color":"#000"},"encoding":{"x":{"field":"x","type":"quantitative"},"y":{"field":"y","type":"quantitative"},"text":{"field":"name"}}}
 ]}
]
}
